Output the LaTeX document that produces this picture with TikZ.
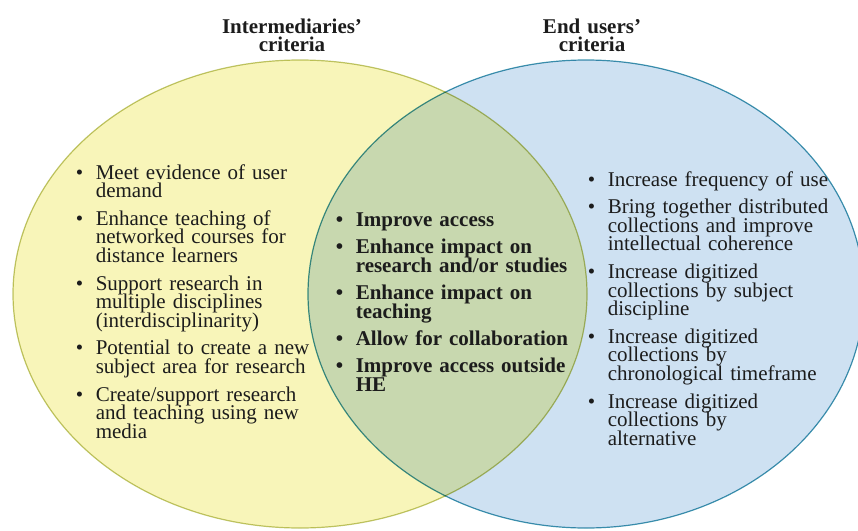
\documentclass[tikz,border=0pt]{standalone}
\usepackage{fontspec}
\setmainfont{Liberation Serif}
\definecolor{vyellow}{RGB}{248,245,185}
\definecolor{vblue}{RGB}{206,225,242}
\definecolor{volive}{RGB}{192,198,112}
\definecolor{vteal}{RGB}{64,150,176}
\definecolor{vtext}{RGB}{28,28,28}
\newcommand{\bitem}[1]{\hangindent=20pt\hangafter=1\noindent\makebox[20pt][l]{\textbullet}#1\par}

\begin{document}
\begin{tikzpicture}[x=1pt,y=-1pt,
  crit/.style={inner sep=0pt,anchor=base west,text width=#1,align=left,text=vtext,
    font=\fontsize{21}{18.8}\selectfont,
    execute at begin node={\setlength{\parskip}{8.5pt}\lineskiplimit=-50pt}},
  head/.style={inner sep=0pt,anchor=base,text width=200pt,align=center,text=vtext,
    font=\bfseries\fontsize{21}{18.5}\selectfont}]
\useasboundingbox (0,0) rectangle (858,530);
\coordinate (lc) at (300,294);
\coordinate (rc) at (586,294);
\begin{scope}[blend group=multiply]
\fill[vyellow] (lc) ellipse [x radius=287,y radius=234];
\draw[volive,line width=1.2pt] (lc) ellipse [x radius=287,y radius=234];
\fill[vblue] (rc) ellipse [x radius=278,y radius=234];
\draw[vteal,line width=1.2pt] (rc) ellipse [x radius=278,y radius=234];
\end{scope}
\node (intertitle) [head] at (292,33) {Intermediaries’\\criteria};
\node (usertitle) [head] at (592,33) {End users’\\criteria};
\node (intercrit) [crit=265pt] at (75.6,179) {%
  \bitem{Meet evidence of user\newline demand}%
  \bitem{Enhance teaching of\newline networked courses for\newline distance learners}%
  \bitem{Support research in\newline multiple disciplines\newline (interdisciplinarity)}%
  \bitem{Potential to create a new\newline subject area for research}%
  \bitem{Create/support research\newline and teaching using new\newline media}};
\node (sharedcrit) [crit=250pt,font=\bfseries\fontsize{21}{18.8}\selectfont] at (335.6,226) {%
  \bitem{Improve access}%
  \bitem{Enhance impact on\newline research and/or studies}%
  \bitem{Enhance impact on\newline teaching}%
  \bitem{Allow for collaboration}%
  \bitem{Improve access outside\newline HE}};
\node (usercrit) [crit=260pt] at (587.6,186) {%
  \bitem{Increase frequency of use}%
  \bitem{Bring together distributed\newline collections and improve\newline intellectual coherence}%
  \bitem{Increase digitized\newline collections by subject\newline discipline}%
  \bitem{Increase digitized\newline collections by\newline chronological timeframe}%
  \bitem{Increase digitized\newline collections by\newline alternative}};
\end{tikzpicture}
\end{document}
